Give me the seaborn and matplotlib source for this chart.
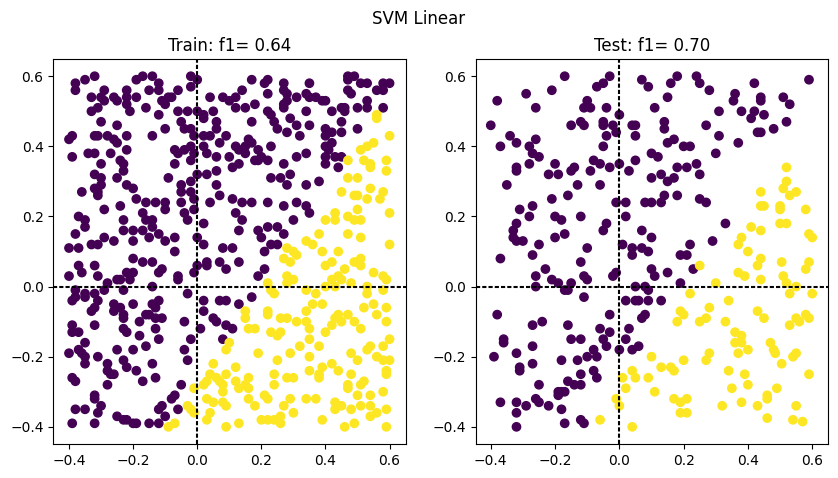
import matplotlib

matplotlib.use('Agg')
import matplotlib.pyplot as plt
import pandas as pd
import seaborn as sns

# Points (feature 1, feature 2), split by class
train_class0 = [
    (-0.38, 0.58), (-0.38, 0.56), (-0.35, 0.59), (-0.32, 0.60), (-0.19, 0.59), (-0.17, 0.60), (-0.14, 0.60),
    (-0.12, 0.58), (-0.15, 0.56), (-0.12, 0.56), (-0.02, 0.60), (0.00, 0.59), (-0.02, 0.57), (-0.06, 0.56),
    (-0.08, 0.54), (-0.09, 0.54), (-0.11, 0.53), (0.04, 0.54), (0.08, 0.54), (0.10, 0.53), (-0.33, 0.54),
    (-0.29, 0.56), (-0.30, 0.54), (-0.26, 0.54), (-0.25, 0.53), (-0.22, 0.56), (-0.22, 0.54), (-0.19, 0.54),
    (-0.22, 0.52), (-0.29, 0.53), (-0.31, 0.51), (-0.33, 0.50), (-0.21, 0.50), (-0.16, 0.51), (-0.12, 0.49),
    (-0.10, 0.52), (-0.06, 0.50), (-0.03, 0.50), (0.00, 0.50), (0.02, 0.49), (0.05, 0.50), (0.06, 0.47),
    (0.06, 0.45), (0.09, 0.43), (-0.30, 0.47), (-0.25, 0.46), (-0.05, 0.47), (-0.04, 0.45), (-0.02, 0.45),
    (-0.01, 0.43), (0.02, 0.43), (0.04, 0.43), (0.07, 0.41), (0.10, 0.37), (0.03, 0.38), (0.06, 0.37),
    (0.02, 0.48), (-0.39, 0.43), (-0.40, 0.42), (-0.32, 0.43), (-0.31, 0.43), (-0.28, 0.43), (-0.26, 0.42),
    (-0.25, 0.41), (-0.22, 0.43), (-0.14, 0.43), (-0.10, 0.45), (-0.07, 0.39), (-0.04, 0.39), (-0.02, 0.40),
    (-0.01, 0.38), (-0.06, 0.38), (-0.07, 0.35), (-0.02, 0.36), (0.02, 0.40), (-0.39, 0.37), (-0.34, 0.38),
    (-0.32, 0.38), (-0.27, 0.38), (-0.30, 0.35), (-0.24, 0.36), (-0.22, 0.39), (-0.23, 0.35), (-0.23, 0.33),
    (-0.25, 0.31), (-0.32, 0.32), (-0.30, 0.31), (-0.30, 0.29), (-0.32, 0.28), (-0.31, 0.27), (-0.31, 0.26),
    (-0.36, 0.27), (-0.22, 0.29), (-0.20, 0.28), (-0.19, 0.25), (-0.24, 0.23), (-0.29, 0.22), (-0.16, 0.24),
    (-0.13, 0.24), (-0.09, 0.31), (-0.05, 0.29), (-0.05, 0.27), (-0.02, 0.30), (-0.02, 0.27), (-0.05, 0.24),
    (-0.01, 0.25), (0.00, 0.32), (0.03, 0.32), (0.06, 0.33), (0.06, 0.29), (0.04, 0.24), (0.07, 0.26),
    (-0.10, 0.24), (-0.10, 0.22), (-0.04, 0.21), (-0.03, 0.19), (-0.01, 0.22), (0.02, 0.18), (-0.37, 0.20),
    (-0.35, 0.19), (-0.35, 0.17), (-0.38, 0.15), (-0.40, 0.11), (-0.37, 0.11), (-0.33, 0.12), (-0.31, 0.12),
    (-0.29, 0.14), (-0.26, 0.13), (-0.23, 0.19), (-0.23, 0.16), (-0.20, 0.16), (-0.20, 0.13), (-0.17, 0.21),
    (-0.16, 0.19), (-0.14, 0.19), (-0.17, 0.16), (-0.14, 0.17), (-0.15, 0.14), (-0.12, 0.15), (-0.10, 0.13),
    (-0.07, 0.14), (-0.07, 0.10), (0.00, 0.14), (0.02, 0.12), (0.08, 0.11),
    (0.17, 0.59), (0.21, 0.58), (0.22, 0.59), (0.27, 0.58), (0.27, 0.56), (0.35, 0.58), (0.47, 0.60),
    (0.49, 0.60), (0.47, 0.59), (0.51, 0.58), (0.53, 0.58), (0.58, 0.58), (0.60, 0.58), (0.56, 0.56),
    (0.58, 0.56), (0.14, 0.56), (0.12, 0.54), (0.12, 0.51), (0.15, 0.51), (0.18, 0.52), (0.22, 0.55),
    (0.28, 0.55), (0.27, 0.52), (0.28, 0.53), (0.31, 0.54), (0.34, 0.55), (0.35, 0.54), (0.37, 0.54),
    (0.39, 0.53), (0.40, 0.53), (0.34, 0.50), (0.27, 0.51), (0.22, 0.50), (0.23, 0.49), (0.47, 0.56),
    (0.48, 0.55), (0.50, 0.51), (0.53, 0.53), (0.53, 0.51), (0.58, 0.51), (0.42, 0.50), (0.45, 0.51),
    (0.46, 0.51), (0.46, 0.50), (0.17, 0.47), (0.24, 0.47), (0.25, 0.45), (0.29, 0.48), (0.31, 0.46),
    (0.35, 0.46), (0.40, 0.45), (0.28, 0.44), (0.32, 0.43), (0.40, 0.43), (0.42, 0.44), (0.40, 0.40),
    (0.41, 0.39), (0.42, 0.41), (0.45, 0.47), (0.45, 0.44), (0.50, 0.45), (0.12, 0.40), (0.13, 0.39),
    (0.15, 0.40), (0.16, 0.42), (0.17, 0.41), (0.19, 0.39), (0.15, 0.38), (0.18, 0.36), (0.19, 0.36),
    (0.20, 0.37), (0.22, 0.36), (0.23, 0.40), (0.27, 0.35), (0.31, 0.37), (0.34, 0.38), (0.40, 0.37),
    (0.43, 0.37), (0.45, 0.37), (0.40, 0.35), (0.44, 0.34), (0.13, 0.35), (0.11, 0.34), (0.23, 0.31),
    (0.26, 0.31), (0.28, 0.29), (0.29, 0.32), (0.34, 0.29), (0.38, 0.30), (0.11, 0.25), (0.14, 0.24),
    (0.17, 0.24), (0.22, 0.24), (0.27, 0.23), (0.31, 0.24), (0.34, 0.23), (0.35, 0.21), (0.12, 0.21),
    (0.14, 0.19), (0.13, 0.16), (0.19, 0.16), (0.22, 0.17), (0.25, 0.17), (0.27, 0.15), (0.20, 0.14),
    (0.30, 0.19), (0.23, 0.12), (0.25, 0.12), (0.21, 0.10), (0.11, 0.11),
    (-0.20, 0.08), (-0.32, 0.06), (-0.37, 0.06), (-0.17, 0.07), (-0.14, 0.07), (-0.12, 0.04), (-0.11, 0.05),
    (0.03, 0.07), (0.07, 0.07), (0.00, 0.06), (-0.01, 0.04), (-0.40, 0.03), (-0.36, 0.04), (-0.31, 0.03),
    (-0.28, 0.01), (-0.25, 0.02), (-0.24, 0.02), (-0.22, 0.04), (-0.20, 0.04), (-0.21, 0.02), (-0.23, -0.01),
    (-0.06, 0.03), (-0.06, 0.02), (-0.14, 0.00), (0.03, 0.06), (-0.38, -0.01), (-0.38, -0.03), (-0.39, -0.04),
    (-0.35, -0.02), (-0.35, -0.03), (-0.32, -0.02), (-0.31, -0.04), (-0.29, -0.01), (-0.33, -0.07), (-0.32, -0.06),
    (-0.26, -0.05), (-0.26, -0.07), (-0.24, -0.06), (-0.20, -0.05), (-0.23, -0.08), (-0.23, -0.09), (-0.16, -0.08),
    (-0.14, -0.05), (-0.12, -0.04), (-0.13, -0.06), (-0.11, -0.09), (-0.15, -0.08), (-0.13, -0.09), (-0.03, -0.02),
    (0.02, -0.04), (0.02, -0.07), (0.07, -0.04), (0.09, -0.04), (0.05, -0.09), (0.06, -0.10), (-0.39, -0.11),
    (-0.39, -0.13), (-0.37, -0.13), (-0.32, -0.11), (-0.18, -0.10), (-0.13, -0.12), (-0.23, -0.12), (-0.22, -0.13),
    (-0.18, -0.14), (-0.12, -0.15), (-0.04, -0.10), (0.01, -0.12), (0.08, -0.15), (-0.02, -0.15), (-0.16, -0.17),
    (-0.25, -0.18), (-0.37, -0.18), (-0.36, -0.19), (-0.35, -0.16), (-0.40, -0.19), (-0.35, -0.20), (-0.35, -0.22),
    (-0.31, -0.20), (-0.28, -0.22), (-0.28, -0.24), (-0.27, -0.25), (-0.26, -0.25), (-0.23, -0.21), (-0.22, -0.23),
    (-0.19, -0.24), (-0.17, -0.27), (-0.13, -0.26), (-0.14, -0.22), (-0.20, -0.18), (-0.04, -0.18), (-0.03, -0.21),
    (-0.39, -0.26), (-0.38, -0.27), (-0.28, -0.28), (-0.32, -0.31), (-0.32, -0.32), (-0.30, -0.34), (-0.05, -0.28),
    (-0.07, -0.31), (-0.08, -0.32), (-0.11, -0.34), (-0.12, -0.35), (-0.10, -0.37), (-0.06, -0.35), (-0.38, -0.35),
    (-0.35, -0.35), (-0.31, -0.36), (-0.32, -0.39), (-0.39, -0.39), (-0.25, -0.37), (-0.23, -0.38), (-0.22, -0.38),
    (-0.20, -0.39), (-0.19, -0.39), (-0.15, -0.39), (-0.12, -0.39),
    (0.09, 0.05), (0.13, 0.07), (0.21, 0.05), (0.19, 0.03), (0.13, -0.05), (0.17, -0.03), (0.09, -0.11), (0.11, -0.12),
]

train_class1 = [
    (0.56, 0.49), (0.56, 0.48), (0.60, 0.43), (0.55, 0.41), (0.53, 0.40), (0.51, 0.39), (0.47, 0.36),
    (0.52, 0.36), (0.54, 0.35), (0.54, 0.34), (0.59, 0.36), (0.59, 0.33), (0.47, 0.31), (0.50, 0.31),
    (0.45, 0.27), (0.49, 0.26), (0.50, 0.26), (0.54, 0.28), (0.53, 0.25), (0.57, 0.25), (0.58, 0.27),
    (0.43, 0.21), (0.50, 0.22), (0.60, 0.21), (0.40, 0.19), (0.43, 0.19), (0.47, 0.20), (0.49, 0.19),
    (0.51, 0.19), (0.47, 0.15), (0.51, 0.14), (0.38, 0.15), (0.34, 0.13), (0.36, 0.12), (0.28, 0.11),
    (0.30, 0.10), (0.39, 0.10), (0.44, 0.10), (0.60, 0.12),
    (-0.01, -0.29), (-0.03, -0.34), (-0.02, -0.35), (-0.01, -0.36), (-0.09, -0.40), (-0.07, -0.39), (0.05, -0.22),
    (0.09, -0.18), (0.10, -0.16), (0.03, -0.27), (0.02, -0.28), (0.06, -0.26), (0.04, -0.25), (0.07, -0.27),
    (0.08, -0.28), (0.08, -0.30), (0.03, -0.32), (0.05, -0.33), (0.08, -0.33), (0.09, -0.34), (0.04, -0.36),
    (0.03, -0.38), (0.09, -0.40),
    (0.31, 0.09), (0.29, 0.07), (0.27, 0.08), (0.40, 0.06), (0.42, 0.07), (0.49, 0.07), (0.51, 0.08),
    (0.51, 0.06), (0.55, 0.04), (0.58, 0.03), (0.59, 0.02), (0.46, 0.05), (0.44, 0.03), (0.45, 0.02),
    (0.42, 0.02), (0.40, 0.00), (0.28, 0.03), (0.30, 0.02), (0.28, 0.01), (0.22, 0.01), (0.23, -0.01),
    (0.24, -0.02), (0.34, -0.01), (0.37, -0.02), (0.43, 0.00), (0.48, 0.01), (0.53, 0.00), (0.53, -0.02),
    (0.58, -0.01), (0.15, -0.07), (0.15, -0.09), (0.16, -0.12), (0.18, -0.12), (0.22, -0.07), (0.22, -0.08),
    (0.26, -0.09), (0.28, -0.09), (0.31, -0.10), (0.34, -0.10), (0.34, -0.07), (0.36, -0.05), (0.39, -0.05),
    (0.44, -0.08), (0.43, -0.09), (0.42, -0.11), (0.45, -0.10), (0.47, -0.08), (0.49, -0.10), (0.51, -0.12),
    (0.52, -0.06), (0.55, -0.05), (0.56, -0.08), (0.59, -0.06), (0.59, -0.10), (0.23, -0.13), (0.25, -0.14),
    (0.26, -0.13), (0.35, -0.15), (0.35, -0.12), (0.40, -0.13), (0.19, -0.19), (0.25, -0.21), (0.29, -0.19),
    (0.32, -0.17), (0.35, -0.20), (0.38, -0.17), (0.54, -0.17), (0.58, -0.17), (0.60, -0.15), (0.53, -0.18),
    (0.56, -0.20), (0.58, -0.21), (0.60, -0.21), (0.48, -0.19), (0.50, -0.21), (0.12, -0.23), (0.09, -0.25),
    (0.12, -0.27), (0.13, -0.29), (0.15, -0.28), (0.16, -0.29), (0.16, -0.26), (0.24, -0.25), (0.24, -0.28),
    (0.28, -0.26), (0.30, -0.26), (0.35, -0.24), (0.39, -0.23), (0.38, -0.25), (0.38, -0.26), (0.42, -0.22),
    (0.44, -0.24), (0.48, -0.25), (0.47, -0.28), (0.47, -0.29), (0.51, -0.28), (0.52, -0.27), (0.59, -0.24),
    (0.59, -0.25), (0.50, -0.31), (0.54, -0.31), (0.58, -0.30), (0.16, -0.32), (0.18, -0.34), (0.21, -0.31),
    (0.22, -0.32), (0.29, -0.32), (0.34, -0.32), (0.37, -0.32), (0.27, -0.34), (0.30, -0.36), (0.43, -0.33),
    (0.45, -0.34), (0.43, -0.35), (0.48, -0.35), (0.51, -0.34), (0.54, -0.34), (0.59, -0.35), (0.54, -0.37),
    (0.56, -0.36), (0.13, -0.39), (0.20, -0.38), (0.22, -0.38), (0.24, -0.38), (0.26, -0.39), (0.26, -0.37),
    (0.39, -0.38), (0.46, -0.40), (0.49, -0.39), (0.59, -0.40),
]

test_class0 = [
    (-0.17, 0.60), (-0.03, 0.60), (-0.05, 0.58), (-0.07, 0.57), (-0.21, 0.56), (-0.29, 0.55), (-0.38, 0.53),
    (-0.26, 0.51), (-0.10, 0.53), (-0.11, 0.51), (-0.09, 0.51), (-0.04, 0.51), (0.00, 0.49), (0.07, 0.59),
    (0.09, 0.57), (0.11, 0.51), (-0.40, 0.46), (-0.15, 0.46), (-0.12, 0.47), (-0.11, 0.46), (-0.05, 0.47),
    (-0.05, 0.46), (-0.02, 0.46), (-0.01, 0.44), (-0.04, 0.43), (0.04, 0.46), (0.05, 0.46), (0.05, 0.43),
    (-0.34, 0.43), (-0.32, 0.41), (-0.26, 0.42), (-0.37, 0.40), (-0.28, 0.40), (-0.27, 0.38), (-0.25, 0.37),
    (-0.05, 0.40), (0.10, 0.38), (-0.08, 0.36), (-0.06, 0.35), (0.00, 0.35), (-0.03, 0.34), (0.05, 0.36),
    (0.03, 0.33), (-0.32, 0.34), (-0.32, 0.33), (-0.28, 0.35), (-0.20, 0.35), (-0.22, 0.32), (-0.19, 0.32),
    (-0.15, 0.33), (-0.14, 0.34), (-0.09, 0.33), (0.10, 0.31), (-0.35, 0.29), (-0.13, 0.29), (-0.06, 0.29),
    (-0.21, 0.25), (-0.16, 0.26), (-0.27, 0.23), (-0.31, 0.22), (-0.28, 0.20), (-0.20, 0.20), (-0.18, 0.19),
    (-0.12, 0.20), (-0.01, 0.24), (0.02, 0.24), (0.08, 0.24), (0.10, 0.24), (0.02, 0.20), (-0.04, 0.18),
    (-0.05, 0.16), (-0.32, 0.18), (-0.33, 0.16), (-0.33, 0.14), (-0.32, 0.13), (-0.30, 0.13), (-0.25, 0.12),
    (-0.20, 0.14), (-0.17, 0.15), (-0.10, 0.11), (0.07, 0.16), (0.10, 0.14), (0.01, 0.12), (0.04, 0.11),
    (0.07, 0.11), (0.09, 0.10),
    (0.18, 0.60), (0.16, 0.58), (0.24, 0.60), (0.25, 0.58), (0.28, 0.56), (0.15, 0.54), (0.36, 0.55),
    (0.355, 0.53), (0.42, 0.58), (0.44, 0.54), (0.44, 0.53), (0.51, 0.54), (0.53, 0.52), (0.59, 0.59),
    (0.31, 0.50), (0.38, 0.50), (0.42, 0.50), (0.41, 0.48), (0.45, 0.49), (0.14, 0.47), (0.14, 0.45),
    (0.27, 0.46), (0.31, 0.43), (0.37, 0.41), (0.43, 0.44), (0.44, 0.44), (0.48, 0.45), (0.52, 0.47),
    (0.15, 0.41), (0.17, 0.42), (0.20, 0.40), (0.22, 0.40), (0.30, 0.38), (0.12, 0.37), (0.24, 0.35),
    (0.18, 0.34), (0.21, 0.34), (0.25, 0.32), (0.13, 0.32), (0.15, 0.30), (0.17, 0.31), (0.14, 0.26),
    (0.18, 0.26), (0.13, 0.24), (0.25, 0.25), (0.27, 0.24), (0.33, 0.18), (0.22, 0.12), (0.29, 0.13),
    (-0.37, 0.08), (-0.27, 0.09), (-0.23, 0.05), (-0.12, 0.07), (-0.26, 0.03), (-0.21, 0.02), (-0.19, 0.01),
    (-0.17, -0.01), (-0.16, -0.01), (-0.15, 0.01), (-0.11, 0.03), (-0.10, 0.02), (-0.11, -0.03), (-0.26, 0.00),
    (-0.02, 0.03), (-0.01, 0.04), (0.04, 0.09), (0.10, 0.05), (0.05, 0.00), (0.08, 0.00), (0.09, -0.01),
    (0.02, -0.04), (0.05, -0.04), (0.06, -0.04), (0.09, -0.04), (0.08, -0.08), (0.07, -0.09), (-0.38, -0.08),
    (-0.27, -0.11), (-0.24, -0.10), (-0.16, -0.11), (-0.15, -0.15), (-0.12, -0.15), (-0.06, -0.12), (-0.03, -0.08),
    (-0.03, -0.13), (-0.05, -0.15), (-0.04, -0.17), (0.03, -0.12), (0.02, -0.15), (-0.36, -0.15), (-0.36, -0.16),
    (-0.32, -0.19), (-0.27, -0.17), (-0.39, -0.20), (-0.27, -0.22), (-0.31, -0.23), (-0.31, -0.24), (-0.25, -0.28),
    (-0.18, -0.21), (-0.13, -0.21), (-0.10, -0.20), (-0.08, -0.18), (-0.07, -0.20), (0.00, -0.18), (0.04, -0.18),
    (0.06, -0.17), (-0.16, -0.27), (-0.14, -0.28), (-0.12, -0.25), (-0.12, -0.28), (-0.08, -0.24), (-0.07, -0.26),
    (-0.19, -0.30), (-0.19, -0.31), (-0.18, -0.30), (-0.17, -0.30), (-0.26, -0.32), (-0.25, -0.33), (-0.29, -0.34),
    (-0.32, -0.33), (-0.32, -0.36), (-0.37, -0.33), (-0.22, -0.34), (-0.18, -0.35), (-0.32, -0.40), (-0.17, -0.39),
    (-0.12, -0.38), (-0.11, -0.39),
    (0.19, 0.09), (0.21, 0.09), (0.23, 0.05), (0.15, 0.04), (0.11, 0.03), (0.19, 0.01), (0.13, -0.04),
]

test_class1 = [
    (0.52, 0.34), (0.52, 0.30), (0.51, 0.28), (0.55, 0.27), (0.53, 0.26), (0.44, 0.27), (0.45, 0.23),
    (0.44, 0.23), (0.50, 0.23), (0.50, 0.22), (0.58, 0.22), (0.50, 0.18), (0.52, 0.18), (0.41, 0.17),
    (0.44, 0.16), (0.59, 0.15), (0.60, 0.14), (0.38, 0.14), (0.37, 0.12), (0.40, 0.10),
    (0.10, -0.20), (0.04, -0.24), (0.05, -0.26), (0.01, -0.26), (0.09, -0.26), (0.11, -0.30), (0.02, -0.29),
    (-0.01, -0.32), (0.00, -0.34), (-0.06, -0.38), (0.04, -0.40),
    (0.25, 0.06), (0.44, 0.08), (0.43, 0.06), (0.37, 0.04), (0.39, 0.03), (0.44, 0.02), (0.505, 0.07),
    (0.51, 0.03), (0.52, 0.01), (0.55, 0.00), (0.53, -0.02), (0.58, 0.05), (0.59, 0.07), (0.60, -0.02),
    (0.30, 0.01), (0.22, -0.02), (0.34, -0.04), (0.28, -0.06), (0.19, -0.07), (0.20, -0.08), (0.18, -0.10),
    (0.25, -0.10), (0.27, -0.09), (0.33, -0.10), (0.36, -0.13), (0.38, -0.14), (0.38, -0.16), (0.36, -0.16),
    (0.40, -0.18), (0.37, -0.19), (0.43, -0.07), (0.45, -0.09), (0.53, -0.11), (0.55, -0.09), (0.58, -0.08),
    (0.59, -0.09), (0.56, -0.10), (0.47, -0.16), (0.48, -0.18), (0.485, -0.19), (0.54, -0.20), (0.55, -0.19),
    (0.505, -0.22), (0.59, -0.25), (0.13, -0.23), (0.16, -0.23), (0.17, -0.24), (0.20, -0.21), (0.28, -0.19),
    (0.27, -0.21), (0.34, -0.24), (0.39, -0.25), (0.40, -0.28), (0.35, -0.29), (0.17, -0.32), (0.21, -0.32),
    (0.19, -0.33), (0.19, -0.36), (0.21, -0.36), (0.32, -0.34), (0.38, -0.33), (0.43, -0.34), (0.46, -0.31),
    (0.46, -0.32), (0.49, -0.29), (0.55, -0.34), (0.46, -0.375), (0.54, -0.38), (0.57, -0.385),
]

train_f1 = 0.64
test_f1 = 0.70


def to_frame(class0, class1):
    rows = [(x, y, 0) for x, y in class0] + [(x, y, 1) for x, y in class1]
    return pd.DataFrame(rows, columns=['x1', 'x2', 'label'])


palette = {0: '#440154', 1: '#fde725'}

fig = plt.figure(figsize=(8.38, 4.78), dpi=100)
ax_train = fig.add_axes([0.0636, 0.0711, 0.4204, 0.8054])
ax_test = fig.add_axes([0.568, 0.0711, 0.4204, 0.8054])

panels = [
    (ax_train, to_frame(train_class0, train_class1), f'Train: f1= {train_f1:.2f}', (-0.449, 0.650)),
    (ax_test, to_frame(test_class0, test_class1), f'Test: f1= {test_f1:.2f}', (-0.446, 0.650)),
]

for ax, df, title, xlim in panels:
    sns.scatterplot(data=df, x='x1', y='x2', hue='label', palette=palette, s=36,
                    linewidth=1, edgecolor='face', legend=False, ax=ax)
    # short dashes like the reference
    ax.axhline(0, color='k', linewidth=1.5, linestyle=(0, (2, 1)))
    ax.axvline(0, color='k', linewidth=1.5, linestyle=(0, (2, 1)))
    ax.set_xlim(*xlim)
    ax.set_ylim(-0.449, 0.649)
    ax.set_xticks([-0.4, -0.2, 0.0, 0.2, 0.4, 0.6])
    ax.set_yticks([-0.4, -0.2, 0.0, 0.2, 0.4, 0.6])
    ax.set_xlabel('')
    ax.set_ylabel('')
    ax.set_title(title)

fig.suptitle('SVM Linear')
fig.savefig('out.png', dpi=100)
